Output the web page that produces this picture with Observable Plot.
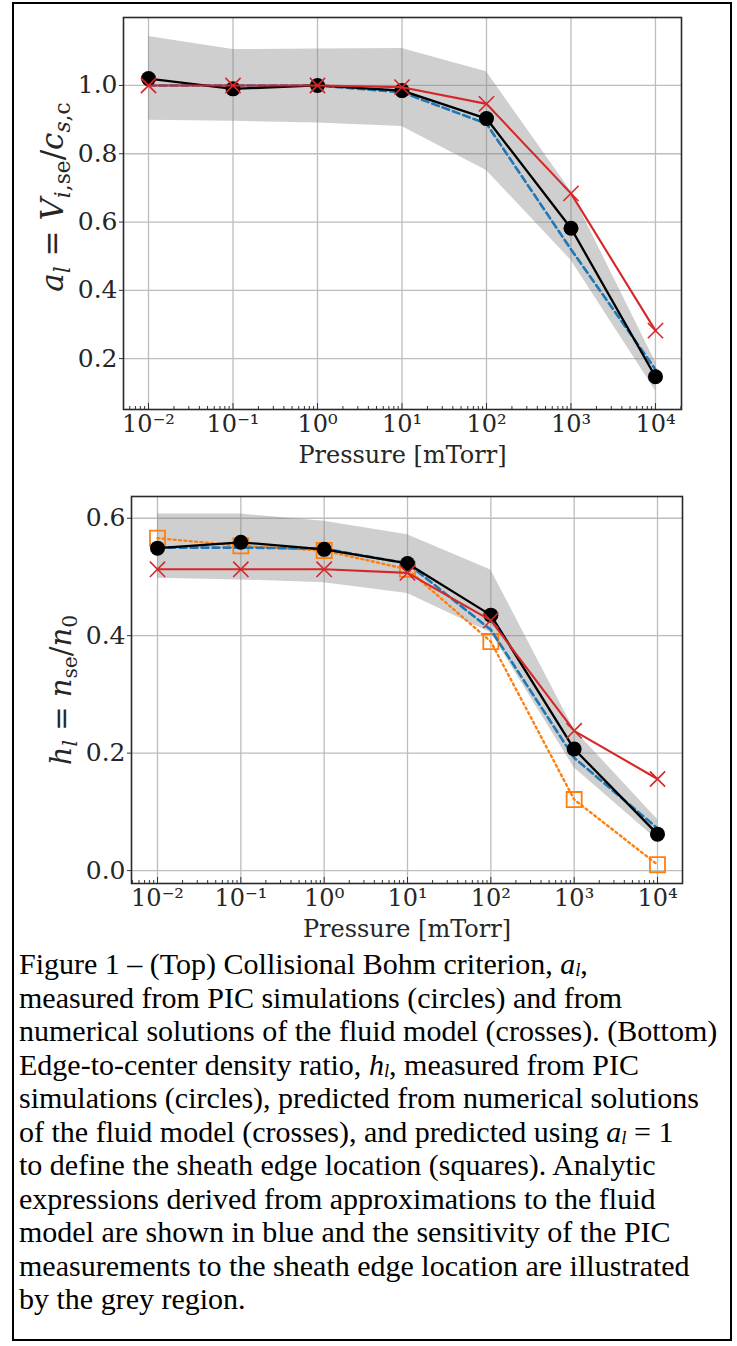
<!DOCTYPE html>
<html><head><meta charset="utf-8">
<script src="https://cdn.jsdelivr.net/npm/d3@7"></script>
<script src="https://cdn.jsdelivr.net/npm/@observablehq/plot@0.6"></script>
<style>
html,body{margin:0;padding:0;background:#fff;}
#box{position:absolute;left:12px;top:2px;width:720px;height:1339px;border:2px solid #000;box-sizing:border-box;overflow:hidden;}
#top{position:absolute;left:0;top:0;}
#bot{position:absolute;left:0;top:475px;}
#cap{position:absolute;left:5px;top:943px;font-family:"Liberation Serif","Times New Roman",serif;font-size:30px;line-height:33.5px;color:#000;white-space:nowrap;}
#cap .m{font-style:italic;}
#cap sub{font-size:62%;vertical-align:-2px;line-height:0;font-style:italic;}
</style></head><body>
<div id="box">
  <div id="top"></div>
  <div id="bot"></div>
  <div id="cap"></div>
</div>
<script>
// ---- data ----
const pressure = [1e-2, 1e-1, 1e0, 1e1, 1e2, 1e3, 1e4];
// top panel: a_l
const alPIC      = [1.020, 0.990, 1.000, 0.985, 0.903, 0.582, 0.147];
const alFluid    = [1.000, 1.000, 1.000, 0.995, 0.946, 0.684, 0.282];
const alAnalytic = [1.000, 1.000, 1.000, 0.980, 0.888, 0.520, 0.168];
const alBandLo   = [0.898, 0.895, 0.890, 0.880, 0.751, 0.488, 0.106];
const alBandHi   = [1.143, 1.105, 1.107, 1.108, 1.040, 0.690, 0.190];
// bottom panel: h_l
const hlPIC      = [0.549, 0.559, 0.547, 0.523, 0.435, 0.207, 0.062];
const hlFluid    = [0.513, 0.513, 0.513, 0.507, 0.426, 0.238, 0.156];
const hlAnalytic = [0.550, 0.550, 0.548, 0.523, 0.410, 0.192, 0.072];
const hlSquares  = [0.566, 0.553, 0.545, 0.513, 0.390, 0.121, 0.010];
const hlBandLo   = [0.498, 0.495, 0.490, 0.472, 0.405, 0.175, 0.052];
const hlBandHi   = [0.607, 0.607, 0.595, 0.572, 0.512, 0.240, 0.087];
// ticks & labels
const xMajor = [1e-2, 1e-1, 1e0, 1e1, 1e2, 1e3, 1e4];
const alTicks = [0.2, 0.4, 0.6, 0.8, 1.0];
const hlTicks = [0.0, 0.2, 0.4, 0.6];
const xLabel = "Pressure [mTorr]";
const alLabelParts = [["a","i"],["l","is"],[" = ",""],["V","i"],["i","is"],[",se","s"],["/",""],["c","i"],["s","is"],[",c","s"]];
const hlLabelParts = [["h","i"],["l","is"],[" = ",""],["n","i"],["se","s"],["/",""],["n","i"],["0","s"]];
const captionLines = [
  'Figure 1 – (Top) Collisional Bohm criterion, <span class="m">a</span><sub>l</sub>,',
  'measured from PIC simulations (circles) and from',
  'numerical solutions of the fluid model (crosses). (Bottom)',
  'Edge-to-center density ratio, <span class="m">h</span><sub>l</sub>, measured from PIC',
  'simulations (circles), predicted from numerical solutions',
  'of the fluid model (crosses), and predicted using <span class="m">a</span><sub>l</sub> = 1',
  'to define the sheath edge location (squares). Analytic',
  'expressions derived from approximations to the fluid',
  'model are shown in blue and the sensitivity of the PIC',
  'measurements to the sheath edge location are illustrated',
  'by the grey region.'
];

const sup = {"-":"⁻","0":"⁰","1":"¹","2":"²","3":"³","4":"⁴"};
const fmtPow = d => "10" + String(Math.round(Math.log10(d))).split("").map(c => sup[c]).join("");
const xMinor = [];
for (let e = -3; e <= 4; e++) for (let m = 2; m <= 9; m++) xMinor.push(m * Math.pow(10, e));

const FONT = "DejaVu Serif";
const TXT = "#262626";

function panel(o) {
  const rows = pressure.map((p, i) => ({p, pic: o.pic[i], fluid: o.fluid[i], an: o.an[i], lo: o.lo[i], hi: o.hi[i], sq: o.sq ? o.sq[i] : null}));
  const xmin = o.xDomain[0], xmax = o.xDomain[1];
  const minor = xMinor.filter(v => v > xmin && v < xmax);
  const marks = [
    Plot.gridX(xMajor, {stroke: "#bdbdbd", strokeOpacity: 1, strokeWidth: 1.3}),
    Plot.gridY(o.yTicks, {stroke: "#bdbdbd", strokeOpacity: 1, strokeWidth: 1.3}),
    Plot.areaY(rows, {x: "p", y1: "lo", y2: "hi", fill: "#808080", fillOpacity: 0.38}),
  ];
  if (o.sq) {
    marks.push(Plot.lineY(rows, {x: "p", y: "sq", stroke: "#ff7f0e", strokeWidth: 2.4, strokeDasharray: "2,3.4"}));
    marks.push(Plot.dot(rows, {x: "p", y: "sq", symbol: "square", r: 8.5, stroke: "#ff7f0e", strokeWidth: 1.8, fill: "none"}));
  }
  marks.push(Plot.lineY(rows, {x: "p", y: "an", stroke: "#1f77b4", strokeWidth: 2.6, strokeDasharray: "7,4"}));
  marks.push(Plot.lineY(rows, {x: "p", y: "pic", stroke: "#000", strokeWidth: 2.3}));
  marks.push(Plot.dot(rows, {x: "p", y: "pic", r: 7.5, fill: "#000"}));
  marks.push(Plot.lineY(rows, {x: "p", y: "fluid", stroke: "#d62728", strokeWidth: 2.1}));
  marks.push(Plot.dot(rows, {x: "p", y: "fluid", symbol: "times", r: 7, stroke: "#d62728", strokeWidth: 1.6}));
  // axes
  marks.push(Plot.axisX(minor, {tickSize: -3, text: null, stroke: "#333"}));
  marks.push(Plot.axisX(xMajor, {tickSize: -6, tickPadding: 11, tickFormat: fmtPow, fill: TXT, stroke: "#333", fontSize: 24}));
  marks.push(Plot.axisY(o.yTicks, {tickSize: 4, tickPadding: 2, tickFormat: d3.format(".1f"), fill: TXT, stroke: "#333", fontSize: 25}));
  marks.push(Plot.text([xLabel], {text: d => d, frameAnchor: "bottom", dy: 53, fontSize: 24, fill: TXT}));
  marks.push(Plot.frame({stroke: "#2a2a2a", strokeWidth: 1.6}));
  const svg = Plot.plot({
    width: 716, height: o.height,
    marginLeft: o.mL, marginRight: o.mR, marginTop: o.mT, marginBottom: o.mB,
    x: {type: "log", domain: o.xDomain, label: null, axis: null},
    y: {domain: o.yDomain, label: null, axis: null},
    style: {fontFamily: FONT, fontSize: "25px", background: "transparent", overflow: "visible"},
    marks
  });
  // rotated math y-label
  const t = d3.select(svg).append("text")
    .attr("transform", `translate(${o.labX},${o.labY}) rotate(-90)`)
    .attr("text-anchor", "middle")
    .attr("font-family", FONT).attr("font-size", o.labSize).attr("fill", TXT)
    .attr("xml:space", "preserve");
  let shift = 0;
  const sz = o.labSize;
  o.label.forEach(([s, k]) => {
    const isSub = k.includes("s");
    const target = isSub ? 0.22 * sz : 0;
    t.append("tspan").text(s)
      .attr("font-size", isSub ? sz * 0.7 : sz)
      .attr("font-style", k.includes("i") ? "italic" : "normal")
      .attr("dy", target - shift);
    shift = target;
  });
  return svg;
}

document.getElementById("top").appendChild(panel({
  pic: alPIC, fluid: alFluid, an: alAnalytic, lo: alBandLo, hi: alBandHi, sq: null,
  yDomain: [0.051, 1.199], yTicks: alTicks,
  xDomain: [Math.pow(10, -2.296), Math.pow(10, 4.308)],
  height: 475, mL: 109, mR: 49, mT: 13, mB: 70,
  label: alLabelParts, labX: 49, labY: 193, labSize: 31
}));
document.getElementById("bot").appendChild(panel({
  pic: hlPIC, fluid: hlFluid, an: hlAnalytic, lo: hlBandLo, hi: hlBandHi, sq: hlSquares,
  yDomain: [-0.022, 0.637], yTicks: hlTicks,
  xDomain: [Math.pow(10, -2.312), Math.pow(10, 4.30)],
  height: 469, mL: 117, mR: 48, mT: 17, mB: 65,
  label: hlLabelParts, labX: 57, labY: 211, labSize: 29
}));
document.getElementById("cap").innerHTML = captionLines.join("<br>");
</script>
</body></html>
